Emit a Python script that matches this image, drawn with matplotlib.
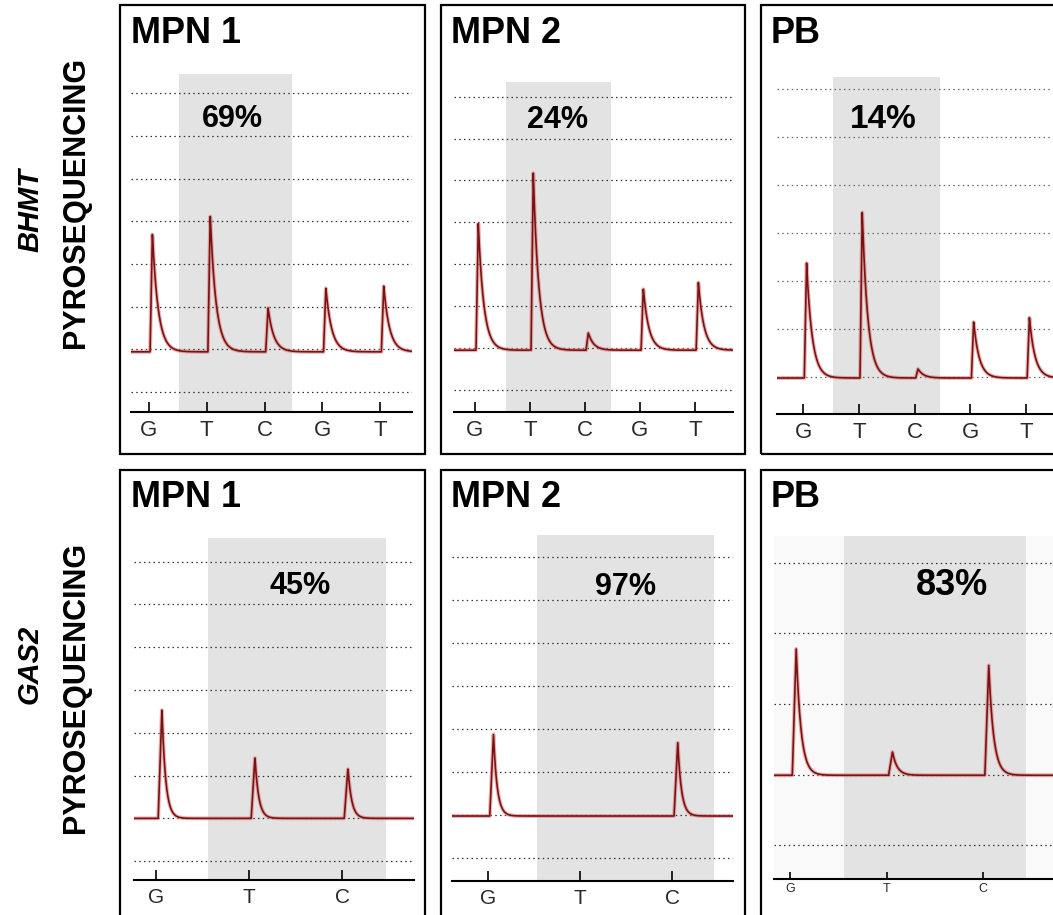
import numpy as np
import matplotlib
matplotlib.use("Agg")
import matplotlib.pyplot as plt
from matplotlib.patches import Rectangle

plt.rcParams['font.family'] = ['Liberation Sans', 'DejaVu Sans']

# dispensation orders
bhmt_bases = ['G', 'T', 'C', 'G', 'T']
gas2_bases = ['G', 'T', 'C']

# peak tops (grid units) and trace baseline
bhmt_mpn1_peaks = [3.72, 4.15, 1.97, 2.44, 2.50]
bhmt_mpn2_peaks = [4.01, 5.20, 1.36, 2.43, 2.58]
bhmt_pb_peaks = [2.40, 3.44, 0.17, 1.15, 1.25]
gas2_mpn1_peaks = [3.55, 2.43, 2.17]
gas2_mpn2_peaks = [2.88, 0.98, 2.70]
gas2_pb_peaks = [2.79, 1.32, 2.55]
baselines = [0.94, 0.95, -0.02, 1.00, 0.98, 0.99]

sample_names = ['MPN 1', 'MPN 2', 'PB', 'MPN 1', 'MPN 2', 'PB']
methylation = ['69%', '24%', '14%', '45%', '97%', '83%']

W, H = 1053, 915
fig = plt.figure(figsize=(W / 100, H / 100), dpi=100)


def rect(x0, y0, x1, y1):
    return [x0 / W, 1 - y1 / H, (x1 - x0) / W, (y1 - y0) / H]


def pulse(x, pos, top, base, rise, tau):
    d = x - pos
    y = np.zeros_like(x)
    up = (d > -rise) & (d <= 0)
    y[up] = (d[up] + rise) / rise
    dn = d > 0
    y[dn] = np.exp(-d[dn] / tau)
    return y * (top - base)


narrow = ['Liberation Sans Narrow', 'Liberation Sans']

# per panel layout: frame box, plot box, xlim, ylim, shade, n grid, tau
panels = [
    dict(frame=(120, 5, 425, 454), box=(131, 74, 412, 412), xlim=(0.69, 5.55),
         ylim=(-0.47, 7.45), shade=(1.52, 3.47), ngrid=8, tau=0.1,
         peaks=bhmt_mpn1_peaks, bases=bhmt_bases, tsize=16, tfam=None),
    dict(frame=(441, 5, 745, 454), box=(454, 82, 733, 412), xlim=(0.62, 5.69),
         ylim=(-0.525, 7.35), shade=(1.56, 3.47), ngrid=8, tau=0.1,
         peaks=bhmt_mpn2_peaks, bases=bhmt_bases, tsize=16, tfam=None),
    dict(frame=(761, 5, 1060, 454), box=(777, 77, 1060, 414), xlim=(0.53, 5.61),
         ylim=(-0.77, 6.25), shade=(1.54, 3.46), ngrid=7, tau=0.1,
         peaks=bhmt_pb_peaks, bases=bhmt_bases, tsize=16, tfam=None),
    dict(frame=(120, 470, 425, 925), box=(134, 538, 414, 880), xlim=(0.76, 3.77),
         ylim=(-0.44, 7.55), shade=(1.56, 3.47), ngrid=8, tau=0.04,
         peaks=gas2_mpn1_peaks, bases=gas2_bases, tsize=15, tfam=narrow),
    dict(frame=(441, 470, 745, 925), box=(452, 535, 733, 881), xlim=(0.61, 3.66),
         ylim=(-0.53, 7.51), shade=(1.53, 3.45), ngrid=8, tau=0.04,
         peaks=gas2_mpn2_peaks, bases=gas2_bases, tsize=15, tfam=narrow),
    dict(frame=(761, 470, 1060, 925), box=(774, 536, 1060, 879), xlim=(0.83, 3.80),
         ylim=(-0.48, 4.38), shade=(1.56, 3.45), ngrid=5, tau=0.05,
         peaks=gas2_pb_peaks, bases=gas2_bases, tsize=9, tfam=None),
]

title_pos = [(131, 43), (451, 43), (771, 43), (131, 507), (451, 507), (771, 507)]
pct_pos = [(232, 127), (557, 128), (883, 128), (300, 594), (625, 595), (952, 595)]
pct_size = [22, 22, 24, 22, 22, 26]

for i, p in enumerate(panels):
    fx0, fy0, fx1, fy1 = p['frame']
    fig.add_artist(Rectangle((fx0 / W, 1 - fy1 / H), (fx1 - fx0) / W, (fy1 - fy0) / H,
                             transform=fig.transFigure, fill=False, ec='black', lw=1.6))
    ax = fig.add_axes(rect(*p['box']))
    if i == 5:
        ax.set_facecolor('#f9f9f9')
    ax.set_xlim(*p['xlim'])
    ax.set_ylim(*p['ylim'])
    ax.axvspan(*p['shade'], color='#e3e3e3', lw=0, zorder=0)
    for g in range(p['ngrid']):
        ax.axhline(g, color='#333333' if i != 2 else '#666666', lw=0.9,
                   ls=(0, (1.2, 2.6)), zorder=1)

    n = len(p['peaks'])
    pos = np.arange(1, n + 1)
    x = np.linspace(p['xlim'][0], p['xlim'][1], 2000)
    base = baselines[i]
    y = np.full_like(x, base)
    for k in range(n):
        y += pulse(x, pos[k] + 0.06, p['peaks'][k], base, 0.04, p['tau'])
    ax.plot(x, y, color='#d98080', lw=2.8, alpha=0.6, zorder=2)
    ax.plot(x, y, color='#7a1212', lw=1.2, zorder=3)

    for s in ['left', 'right', 'top']:
        ax.spines[s].set_visible(False)
    ax.spines['bottom'].set_linewidth(1.5)
    ax.set_yticks([])
    ax.set_xticks(pos)
    ax.set_xticklabels(p['bases'])
    ax.tick_params(axis='x', direction='in', length=7 if i != 5 else 5, width=1.2,
                   pad=6 if i != 5 else 3, labelsize=p['tsize'], labelcolor='#2a2a2a')
    if p['tfam']:
        for lab in ax.get_xticklabels():
            lab.set_family(p['tfam'])

    tx, ty = title_pos[i]
    fig.text(tx / W, 1 - ty / H, sample_names[i], fontsize=26, fontweight='bold',
             ha='left', va='baseline')
    cx, cy = pct_pos[i]
    fig.text(cx / W, 1 - cy / H, methylation[i], fontsize=pct_size[i], fontweight='bold',
             ha='center', va='baseline')

# row labels
fig.text(30 / W, 1 - 210 / H, 'BHMT', rotation=90, fontsize=21, fontweight='bold',
         style='italic', ha='center', va='center')
fig.text(76 / W, 1 - 202 / H, 'PYROSEQUENCING', rotation=90, fontsize=22,
         fontweight='bold', ha='center', va='center')
fig.text(30 / W, 1 - 664 / H, 'GAS2', rotation=90, fontsize=21, fontweight='bold',
         style='italic', ha='center', va='center')
fig.text(76 / W, 1 - 687 / H, 'PYROSEQUENCING', rotation=90, fontsize=22,
         fontweight='bold', ha='center', va='center')

fig.savefig('out.png', dpi=100)
